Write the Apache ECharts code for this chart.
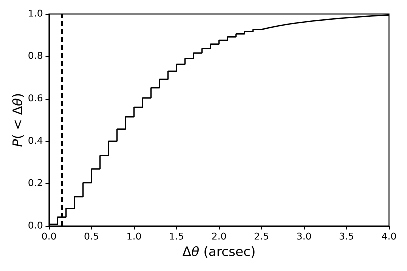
<!DOCTYPE html>
<html>
<head>
<meta charset="utf-8">
<script src="https://cdn.jsdelivr.net/npm/echarts@6/dist/echarts.min.js"></script>
<style>
  html, body { margin: 0; padding: 0; background: #fff; }
  #chart { width: 407px; height: 271px; }
</style>
</head>
<body>
<div id="chart"></div>
<script>
// left edges of the 0.1 arcsec bins and the cumulative fraction in each
var binEdges = [0.0, 0.1, 0.2, 0.3, 0.4, 0.5, 0.6, 0.7, 0.8, 0.9,
                1.0, 1.1, 1.2, 1.3, 1.4, 1.5, 1.6, 1.7, 1.8, 1.9,
                2.0, 2.1, 2.2, 2.3, 2.4, 2.5, 2.6, 2.7, 2.8, 2.9,
                3.0, 3.1, 3.2, 3.3, 3.4, 3.5, 3.6, 3.7, 3.8, 3.9, 4.0];
var cumFrac = [0.008, 0.042, 0.083, 0.138, 0.204, 0.269, 0.332, 0.400, 0.457, 0.515,
               0.560, 0.604, 0.652, 0.692, 0.730, 0.763, 0.790, 0.816, 0.837, 0.858,
               0.876, 0.892, 0.906, 0.917, 0.927, 0.936, 0.944, 0.951, 0.957, 0.962,
               0.967, 0.971, 0.975, 0.979, 0.982, 0.985, 0.988, 0.991, 0.993, 0.995];
var cutLine = 0.15;

var pts = [];
for (var i = 0; i < cumFrac.length; i++) {
    pts.push([binEdges[i], cumFrac[i]]);
}
pts.push([binEdges[binEdges.length - 1], cumFrac[cumFrac.length - 1]]);

var font = 'DejaVu Sans';
// higher pixel ratio so the tiny steps near the top are not merged away
var chart = echarts.init(document.getElementById('chart'), null, { renderer: 'canvas', devicePixelRatio: 4 });
chart.setOption({
    animation: false,
    grid: {
        left: 49, right: 18, top: 14, bottom: 45,
        show: true, borderColor: '#000', borderWidth: 1, backgroundColor: 'transparent'
    },
    xAxis: {
        type: 'value', min: 0, max: 4, interval: 0.5,
        name: '{n|Δ}{i|θ}{n| (arcsec)}',
        nameLocation: 'middle', nameGap: 20, nameMoveOverlap: false,
        nameTextStyle: {
            rich: {
                n: { fontFamily: font, fontSize: 13, color: '#000' },
                i: { fontFamily: font, fontSize: 13, color: '#000', fontStyle: 'italic' }
            }
        },
        axisLine: { show: true, lineStyle: { color: '#000', width: 1 } },
        axisTick: { show: true, length: 3.5, lineStyle: { color: '#000' } },
        axisLabel: {
            fontFamily: font, fontSize: 9.5, color: '#000', margin: 6,
            formatter: function (v) { return v.toFixed(1); }
        },
        splitLine: { show: false }
    },
    yAxis: {
        type: 'value', min: 0, max: 1, interval: 0.2,
        name: '{i|P}{n|( < Δ}{i|θ}{n|)}',
        nameLocation: 'middle', nameGap: 24, nameMoveOverlap: false,
        nameTextStyle: {
            rich: {
                n: { fontFamily: font, fontSize: 13, color: '#000' },
                i: { fontFamily: font, fontSize: 13, color: '#000', fontStyle: 'italic' }
            }
        },
        axisLine: { show: true, lineStyle: { color: '#000', width: 1 } },
        axisTick: { show: true, length: 3.5, lineStyle: { color: '#000' } },
        axisLabel: {
            fontFamily: font, fontSize: 9.5, color: '#000', margin: 6,
            formatter: function (v) { return v.toFixed(1); }
        },
        splitLine: { show: false }
    },
    series: [{
        type: 'line',
        step: 'end',
        data: pts,
        symbol: 'none',
        lineStyle: { color: '#000', width: 1.3 },
        markLine: {
            silent: true,
            symbol: 'none',
            label: { show: false },
            lineStyle: { color: '#000', type: [5, 3], width: 1.5 },
            data: [{ xAxis: cutLine }]
        }
    }]
});
</script>
</body>
</html>
